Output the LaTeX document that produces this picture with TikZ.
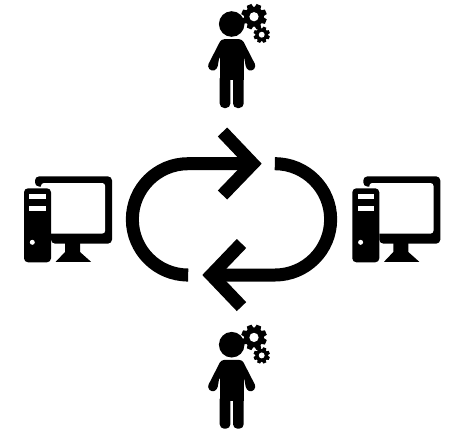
\documentclass[tikz,border=0pt]{standalone}
\usepackage{xcolor}
\usetikzlibrary{arrows.meta,positioning}
\definecolor{iconBlack}{RGB}{0,0,0}

\begin{document}
\begin{tikzpicture}[
    x=1pt,y=-1pt,
    solid/.style={fill=iconBlack,draw=none},
    hole/.style={fill=white,draw=none},
    loopline/.style={draw=iconBlack,line width=13pt,line cap=butt},
    chevron/.style={draw=iconBlack,line width=13pt,line cap=butt,line join=miter},
    gear/.pic={
      \fill[solid] (0,0) circle (0.78);
      \foreach \a in {0,45,...,315}
        \fill[solid,rotate=\a+22.5] (-0.27,0.6) -- (-0.19,1) -- (0.19,1) -- (0.27,0.6) -- cycle;
      \fill[hole] (0,0) circle (0.36);
    },
    person/.pic={
      \fill[solid] (0,0) circle (12.8);
      % torso and arms
      \fill[solid,rounded corners=3pt] (-10.5,15.2) -- (10.5,15.2) -- (24.5,42.5) -- (20,47.5) -- (14.5,45) -- (12.2,32) -- (-12.2,32) -- (-14.5,45) -- (-20,47.5) -- (-24.5,42.5) -- cycle;
      \fill[solid] (-12,25) rectangle (12,56);
      % legs
      \fill[solid,rounded corners=4.5pt] (-12,50) -- (-1.3,50) -- (-1.3,84) -- (-12,84) -- cycle;
      \fill[solid,rounded corners=4.5pt] (1.3,50) -- (12,50) -- (12,84) -- (1.3,84) -- cycle;
      \fill[solid] (-12,48) rectangle (12,51.5);
      % gears
      \pic[scale=12.8] at (22.3,-7.3) {gear};
      \pic[scale=8.2] at (30,10.7) {gear};
    },
    computer/.pic={
      % monitor
      \fill[solid,rounded corners=4pt] (35,186.5) -- (35,176.4) -- (112,176.4) -- (112,243.6) -- (51,243.6) -- (51,186.5) -- cycle;
      \fill[hole,rounded corners=3pt] (41,183) -- (105.2,183) -- (105.2,233.6) -- (48,233.6) -- (48,190) -- (41,190) -- cycle;
      % stand
      \fill[solid] (65,243) -- (80,243) -- (80,252) -- (91,261.8) -- (55.7,261.8) -- (65,252) -- cycle;
      % tower
      \fill[solid,rounded corners=4pt] (24,188.3) rectangle (51,262.3);
      \fill[hole] (29.3,194) rectangle (46,199.3);
      \fill[hole] (29.3,205.7) rectangle (46,211);
      \fill[hole] (32.3,242.3) circle (2.5);
    }
  ]
    \useasboundingbox[fill=white] (0,0) rectangle (454,432);

    \pic at (231.7,24) {person};
    \pic at (231.7,344.7) {person};
    \pic at (0,0) {computer};
    \pic at (328.3,0) {computer};

    % upper arrow
    \draw[loopline] (186,275) -- (188,275) arc[start angle=90,end angle=270,radius=55.65] -- (250,163.7);
    \draw[chevron] (222.5,132) -- (252.7,163.7) -- (222.5,195);

    % lower arrow
    \draw[loopline] (277,163.7) -- (275,163.7) arc[start angle=-90,end angle=90,radius=55.65] -- (214,275);
    \draw[chevron] (241.5,243.5) -- (211.3,275) -- (241.5,306.6);
\end{tikzpicture}
\end{document}
